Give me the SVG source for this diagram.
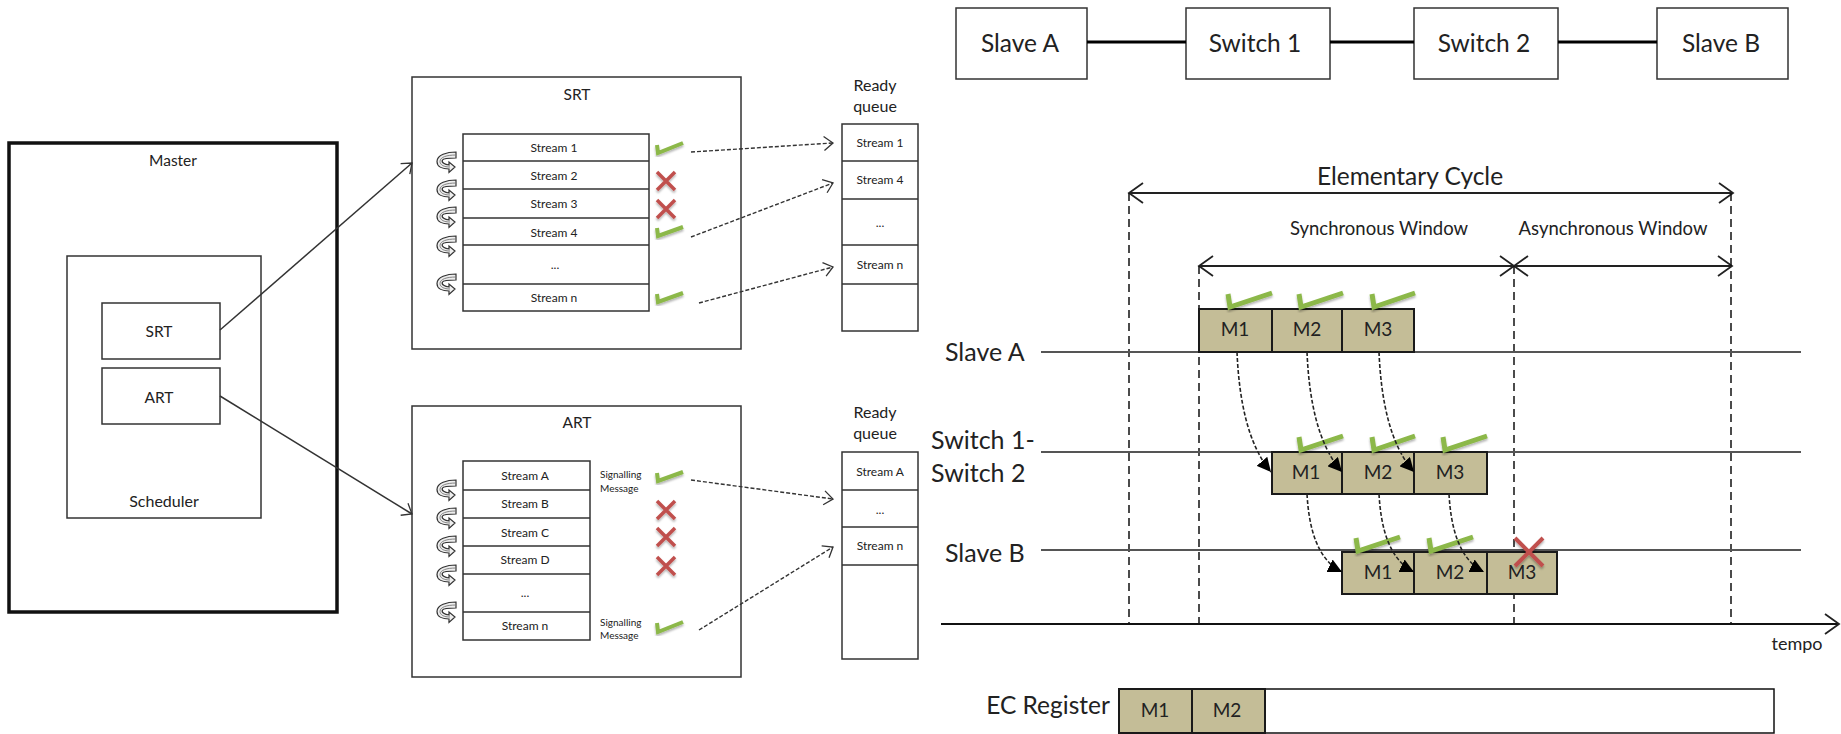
<svg xmlns="http://www.w3.org/2000/svg" xmlns:xlink="http://www.w3.org/1999/xlink" width="1841" height="734" viewBox="0 0 1841 734">
<style>
text{font-family:"Lato","Liberation Sans",sans-serif;fill:#222;text-anchor:middle}
.box{fill:#fff;stroke:#333;stroke-width:1.5}
.thin{fill:none;stroke:#333;stroke-width:1.5}
.cell{fill:#c4bd97;stroke:#1a1a1a;stroke-width:2}
.tick{fill:none;stroke:#8cb84a;stroke-width:4;filter:url(#sh)}
.tick2{fill:none;stroke:#8cb84a;stroke-width:5;filter:url(#sh)}
.cross{fill:none;stroke:#c0504d;stroke-width:3.5;filter:url(#sh)}
.dash{fill:none;stroke:#333;stroke-width:1.4;stroke-dasharray:4 2}
.vd{fill:none;stroke:#111;stroke-width:1.5;stroke-dasharray:8 5}
.tl{fill:none;stroke:#555;stroke-width:2}
.dim{fill:none;stroke:#222;stroke-width:2;marker-start:url(#os);marker-end:url(#oe)}
.curve{fill:none;stroke:#222;stroke-width:1.6;stroke-dasharray:4 2;marker-end:url(#tri)}
.s{font-size:12px}.t15{font-size:15.5px}.t16{font-size:16px}.t18{font-size:18.5px}.t24{font-size:24.5px}.m{font-size:19px}
.tempo{font-size:18px}
.left{font-size:25px;text-anchor:start}
.sig{font-size:10px;text-anchor:start}
</style>
<defs>
<filter id="sh" x="-40%" y="-40%" width="180%" height="180%"><feDropShadow dx="0" dy="2" stdDeviation="1.3" flood-color="#000" flood-opacity="0.3"/></filter>
<marker id="oe" markerUnits="userSpaceOnUse" markerWidth="20" markerHeight="24" refX="17" refY="12" orient="auto"><path d="M3,2 L17,12 L3,22" fill="none" stroke="#222" stroke-width="1.8"/></marker>
<marker id="os" markerUnits="userSpaceOnUse" markerWidth="20" markerHeight="24" refX="3" refY="12" orient="auto"><path d="M17,2 L3,12 L17,22" fill="none" stroke="#222" stroke-width="1.8"/></marker>
<marker id="oa" markerUnits="userSpaceOnUse" markerWidth="14" markerHeight="16" refX="12" refY="8" orient="auto"><path d="M3,1 L12,8 L3,15" fill="none" stroke="#333" stroke-width="1.3"/></marker>
<marker id="tri" markerUnits="userSpaceOnUse" markerWidth="16" markerHeight="14" refX="14" refY="7" orient="auto"><path d="M0,0 L14,7 L0,14 Z" fill="#000"/></marker>
<g id="curl"><path d="M19,0 C10,0 0,3 0,9.500 C0,15 6,17 12,17 L12,20.500 L18,15 L12,10 L12,13 C8,12.500 4,10.500 5.500,8 C6.500,6 12,6 19,6 Z" fill="#eee" stroke="#333" stroke-width="1.2"/><path d="M19,3 C10,3 3,5 3,9.500 C3,13 7,15 13,15" fill="none" stroke="#777" stroke-width=".9"/></g>
</defs>

<g id="master">
<rect x="9" y="143" width="328" height="469" fill="#fff" stroke="#111" stroke-width="3.5"/>
<text class="t15" x="173" y="166">Master</text>
</g>
<g id="scheduler">
<rect class="box" x="67" y="256" width="194" height="262"/>
<text class="t16" x="164" y="507">Scheduler</text>
</g>
<g id="srt-box"><rect class="box" x="102" y="303" width="118" height="56"/><text class="t15" x="159" y="337">SRT</text></g>
<g id="art-box"><rect class="box" x="102" y="368" width="118" height="56"/><text class="t15" x="159" y="403">ART</text></g>

<g id="srt-panel">
<rect class="box" x="412" y="77" width="329" height="272"/>
<text class="t15" x="577" y="100">SRT</text>
<rect class="box" x="463" y="134" width="186" height="177"/>
<path class="thin" d="M463,161H649M463,189H649M463,218H649M463,245H649M463,284H649"/>
<text class="s" x="554" y="152">Stream 1</text>
<text class="s" x="554" y="180">Stream 2</text>
<text class="s" x="554" y="208">Stream 3</text>
<text class="s" x="554" y="237">Stream 4</text>
<text class="s" x="555" y="269">...</text>
<text class="s" x="554" y="302">Stream n</text>
<use xlink:href="#curl" href="#curl" x="437" y="152"/>
<use xlink:href="#curl" href="#curl" x="437" y="180"/>
<use xlink:href="#curl" href="#curl" x="437" y="207"/>
<use xlink:href="#curl" href="#curl" x="437" y="236"/>
<use xlink:href="#curl" href="#curl" x="437" y="274"/>
<path class="tick" d="M657,145L658,153L683,143"/>
<path class="tick" d="M657,228L658,236L683,227"/>
<path class="tick" d="M657,294L658,302L683,293"/>
<path class="cross" d="M657,172L675,190M675,172L657,190"/>
<path class="cross" d="M657,200L675,218M675,200L657,218"/>
</g>

<g id="srt-queue">
<text class="t16" x="875" y="91">Ready</text>
<text class="t16" x="875" y="112">queue</text>
<rect class="box" x="842" y="124" width="76" height="207"/>
<path class="thin" d="M842,161H918M842,199H918M842,245H918M842,284H918"/>
<text class="s" x="880" y="147">Stream 1</text>
<text class="s" x="880" y="184">Stream 4</text>
<text class="s" x="880" y="227">...</text>
<text class="s" x="880" y="269">Stream n</text>
</g>

<g id="art-panel">
<rect class="box" x="412" y="406" width="329" height="271"/>
<text class="t15" x="577" y="428">ART</text>
<rect class="box" x="463" y="461" width="127" height="179"/>
<path class="thin" d="M463,490H590M463,518H590M463,546H590M463,574H590M463,612H590"/>
<text class="s" x="525" y="480">Stream A</text>
<text class="s" x="525" y="508">Stream B</text>
<text class="s" x="525" y="537">Stream C</text>
<text class="s" x="525" y="564">Stream D</text>
<text class="s" x="525" y="597">...</text>
<text class="s" x="525" y="630">Stream n</text>
<text class="sig" x="600" y="478">Signalling</text>
<text class="sig" x="600" y="492">Message</text>
<text class="sig" x="600" y="626">Signalling</text>
<text class="sig" x="600" y="639">Message</text>
<use xlink:href="#curl" href="#curl" x="437" y="480"/>
<use xlink:href="#curl" href="#curl" x="437" y="508"/>
<use xlink:href="#curl" href="#curl" x="437" y="536"/>
<use xlink:href="#curl" href="#curl" x="437" y="565"/>
<use xlink:href="#curl" href="#curl" x="437" y="602"/>
<path class="tick" d="M657,473L658,481L683,472"/>
<path class="tick" d="M657,623L658,632L683,622"/>
<path class="cross" d="M657,501L675,519M675,501L657,519"/>
<path class="cross" d="M657,528L675,546M675,528L657,546"/>
<path class="cross" d="M657,557L675,575M675,557L657,575"/>
</g>

<g id="art-queue">
<text class="t16" x="875" y="418">Ready</text>
<text class="t16" x="875" y="439">queue</text>
<rect class="box" x="842" y="452" width="76" height="207"/>
<path class="thin" d="M842,490H918M842,527H918M842,565H918"/>
<text class="s" x="880" y="476">Stream A</text>
<text class="s" x="880" y="514">...</text>
<text class="s" x="880" y="550">Stream n</text>
</g>

<g id="slave-a"><rect class="box" x="956" y="8" width="131" height="71"/><text class="t24" x="1020" y="52">Slave A</text></g>
<g id="switch-1"><rect class="box" x="1186" y="8" width="144" height="71"/><text class="t24" x="1255" y="52">Switch 1</text></g>
<g id="switch-2"><rect class="box" x="1414" y="8" width="144" height="71"/><text class="t24" x="1484" y="52">Switch 2</text></g>
<g id="slave-b"><rect class="box" x="1657" y="8" width="131" height="71"/><text class="t24" x="1721" y="52">Slave B</text></g>

<g id="timing-labels">
<text class="t24" x="1410" y="185">Elementary Cycle</text>
<text class="t18" x="1379" y="235">Synchronous Window</text>
<text class="t18" x="1613" y="235">Asynchronous Window</text>
<text class="left" x="945" y="361">Slave A</text>
<text class="left" x="931" y="449">Switch 1-</text>
<text class="left" x="931" y="482">Switch 2</text>
<text class="left" x="945" y="562">Slave B</text>
<text class="tempo" x="1797" y="650">tempo</text>
</g>

<g id="connectors">
<path class="thin" d="M220,330L412,163" marker-end="url(#oa)"/>
<path class="thin" d="M220,396L412,514" marker-end="url(#oa)"/>
<path class="dash" d="M691,152L833,143" marker-end="url(#oa)"/>
<path class="dash" d="M691,237L833,183" marker-end="url(#oa)"/>
<path class="dash" d="M699,303L833,267" marker-end="url(#oa)"/>
<path class="dash" d="M691,480L833,499" marker-end="url(#oa)"/>
<path class="dash" d="M699,630L833,547" marker-end="url(#oa)"/>
<path d="M1087,42H1186M1330,42H1414M1558,42H1657" fill="none" stroke="#000" stroke-width="3.2"/>
<path class="dim" d="M1129,193H1733"/>
<path class="dim" d="M1199,266H1514"/>
<path class="dim" d="M1514,266H1732"/>
<path class="vd" d="M1129,193V624M1199,266V624M1514,266V624M1731,193V624"/>
<path class="tl" d="M1041,352H1801M1041,452H1801M1041,550H1801"/>
<path d="M941,624H1839" fill="none" stroke="#111" stroke-width="2" marker-end="url(#oe)"/>
</g>

<g id="row-slave-a">
<rect class="cell" x="1199" y="309" width="73" height="43"/><rect class="cell" x="1272" y="309" width="70" height="43"/><rect class="cell" x="1342" y="309" width="72" height="43"/>
<text class="m" x="1235" y="336">M1</text><text class="m" x="1307" y="336">M2</text><text class="m" x="1378" y="336">M3</text>
<path class="tick2" d="M1228,294L1230,307L1272,293"/><path class="tick2" d="M1299,294L1301,307L1343,293"/><path class="tick2" d="M1372,294L1374,307L1415,293"/>
</g>
<g id="row-switch">
<rect class="cell" x="1272" y="452" width="70" height="42"/><rect class="cell" x="1342" y="452" width="72" height="42"/><rect class="cell" x="1414" y="452" width="73" height="42"/>
<text class="m" x="1306" y="479">M1</text><text class="m" x="1378" y="479">M2</text><text class="m" x="1450" y="479">M3</text>
<path class="tick2" d="M1299,437L1301,450L1343,436"/><path class="tick2" d="M1372,437L1374,450L1415,436"/><path class="tick2" d="M1443,437L1445,450L1487,436"/>
</g>
<g id="row-slave-b">
<rect class="cell" x="1342" y="552" width="72" height="42"/><rect class="cell" x="1414" y="552" width="73" height="42"/><rect class="cell" x="1487" y="552" width="70" height="42"/>
<text class="m" x="1378" y="579">M1</text><text class="m" x="1450" y="579">M2</text><text class="m" x="1522" y="579">M3</text>
<path class="tick2" d="M1356,538L1358,551L1400,537"/><path class="tick2" d="M1429,538L1431,551L1473,537"/>
<path class="cross" d="M1515,538L1543,566M1543,538L1515,566" style="stroke-width:4"/>
</g>

<g id="transfer-arrows">
<path class="curve" d="M1237,352C1239,400 1248,445 1271,472"/>
<path class="curve" d="M1307,352C1309,400 1318,445 1342,472"/>
<path class="curve" d="M1379,352C1381,400 1390,445 1414,472"/>
<path class="curve" d="M1307,494C1309,530 1318,560 1342,572"/>
<path class="curve" d="M1379,494C1381,530 1390,560 1414,572"/>
<path class="curve" d="M1449,494C1451,530 1460,560 1484,572"/>
</g>

<g id="ec-register">
<text class="t24" x="1048" y="714">EC Register</text>
<rect class="box" x="1119" y="689" width="655" height="44" style="stroke:#111"/>
<rect class="cell" x="1119" y="689" width="73" height="44"/><rect class="cell" x="1192" y="689" width="73" height="44"/>
<text class="m" x="1155" y="717">M1</text><text class="m" x="1227" y="717">M2</text>
</g>
</svg>
